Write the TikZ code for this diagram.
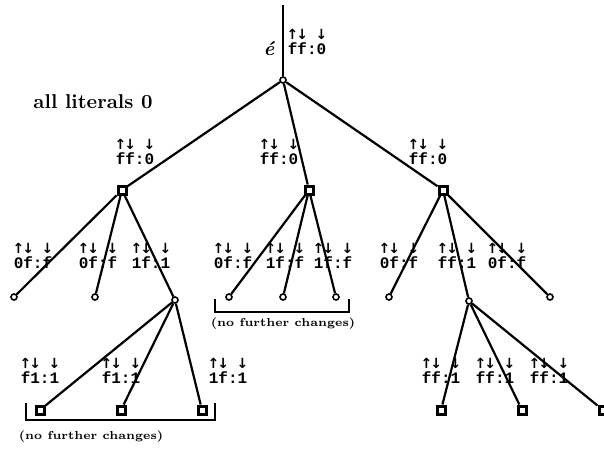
\documentclass[tikz,border=0pt]{standalone}
\usepackage{fontspec}
\usepackage{tikz}
\setmonofont{Liberation Mono}
\newfontfamily\arrowfont{DejaVu Sans}

\newcommand{\ar}[1]{\makebox[0.6em]{\arrowfont\fontsize{7}{7}\selectfont #1}}
\newcommand{\lits}[3]{{\renewcommand{\arraystretch}{0.6}%
  \begin{tabular}{@{}c@{}c@{}c@{}c@{}}\ar{↑}&\ar{↓}&&\ar{↓}\\#1&#2&:&#3\end{tabular}}}

\begin{document}
\begin{tikzpicture}[x=0.5pt, y=-0.5pt,
  dotnode/.style = {draw, circle, line width=0.8pt, inner sep=0, minimum size=3pt, fill=white},
  boxnode/.style = {draw, rectangle, line width=1.5pt, inner sep=0, minimum size=4pt, fill=white},
  lab/.style = {font=\fontsize{8}{8}\ttfamily\bfseries, inner sep=0},
  note/.style = {font=\fontsize{5.8}{7}\bfseries, inner sep=0},
  edge/.style = {line width=1.1pt}]
  \useasboundingbox (0,0) rectangle (604,450);
  % nodes
  \coordinate (top) at (283,5);
  \node[dotnode] (r) at (283,80) {};
  \node[boxnode] (a) at (122,190) {};
  \node[boxnode] (b) at (309,190) {};
  \node[boxnode] (c) at (443,190) {};
  \node[dotnode] (a1) at (14,297) {};
  \node[dotnode] (a2) at (95,297) {};
  \node[dotnode] (a3) at (175,300) {};
  \node[dotnode] (b1) at (229,297) {};
  \node[dotnode] (b2) at (283,297) {};
  \node[dotnode] (b3) at (336,297) {};
  \node[dotnode] (c1) at (389,297) {};
  \node[dotnode] (c2) at (469,301) {};
  \node[dotnode] (c3) at (550,297) {};
  \node[boxnode] (a31) at (40,410) {};
  \node[boxnode] (a32) at (121,410) {};
  \node[boxnode] (a33) at (202,410) {};
  \node[boxnode] (c21) at (441,410) {};
  \node[boxnode] (c22) at (522,410) {};
  \node[boxnode] (c23) at (603,410) {};
  % edges
  \draw[edge] (top) -- (r);
  \draw[edge] (r) -- (a);
  \draw[edge] (r) -- (b);
  \draw[edge] (r) -- (c);
  \draw[edge] (a) -- (a1);
  \draw[edge] (a) -- (a2);
  \draw[edge] (a) -- (a3);
  \draw[edge] (b) -- (b1);
  \draw[edge] (b) -- (b2);
  \draw[edge] (b) -- (b3);
  \draw[edge] (c) -- (c1);
  \draw[edge] (c) -- (c2);
  \draw[edge] (c) -- (c3);
  \draw[edge] (a3) -- (a31);
  \draw[edge] (a3) -- (a32);
  \draw[edge] (a3) -- (a33);
  \draw[edge] (c2) -- (c21);
  \draw[edge] (c2) -- (c22);
  \draw[edge] (c2) -- (c23);
  % labels
  \node[font=\fontsize{10}{10}\bfseries\itshape] (e) at (269,49) {é};
  \node[lab] (lr) at (307,43) {\lits{f}{f}{0}};
  \node[font=\fontsize{10}{11}\bfseries] (all) at (93,102) {all literals 0};
  \node[lab] (la) at (135,153) {\lits{f}{f}{0}};
  \node[lab] (lb) at (279,153) {\lits{f}{f}{0}};
  \node[lab] (lc) at (428,153) {\lits{f}{f}{0}};
  \node[lab] (la1) at (33,257) {\lits{0}{f}{f}};
  \node[lab] (la2) at (98,257) {\lits{0}{f}{f}};
  \node[lab] (la3) at (151,257) {\lits{1}{f}{1}};
  \node[lab] (lb1) at (233,257) {\lits{0}{f}{f}};
  \node[lab] (lb2) at (285,257) {\lits{1}{f}{f}};
  \node[lab] (lb3) at (333,257) {\lits{1}{f}{f}};
  \node[lab] (lc1) at (399,257) {\lits{0}{f}{f}};
  \node[lab] (lc2) at (457,257) {\lits{f}{f}{1}};
  \node[lab] (lc3) at (507,257) {\lits{0}{f}{f}};
  \node[lab] (la31) at (40,372) {\lits{f}{1}{1}};
  \node[lab] (la32) at (121,372) {\lits{f}{1}{1}};
  \node[lab] (la33) at (228,372) {\lits{1}{f}{1}};
  \node[lab] (lc21) at (441,372) {\lits{f}{f}{1}};
  \node[lab] (lc22) at (495,372) {\lits{f}{f}{1}};
  \node[lab] (lc23) at (549,372) {\lits{f}{f}{1}};
  % brackets
  \draw[edge] (215,299) -- (215,312) -- (349,312) -- (349,299);
  \node[note] (nb) at (283,324) {(no further changes)};
  \draw[edge] (26,403) -- (26,420) -- (215,420) -- (215,403);
  \node[note] (na) at (91,437) {(no further changes)};
\end{tikzpicture}
\end{document}
